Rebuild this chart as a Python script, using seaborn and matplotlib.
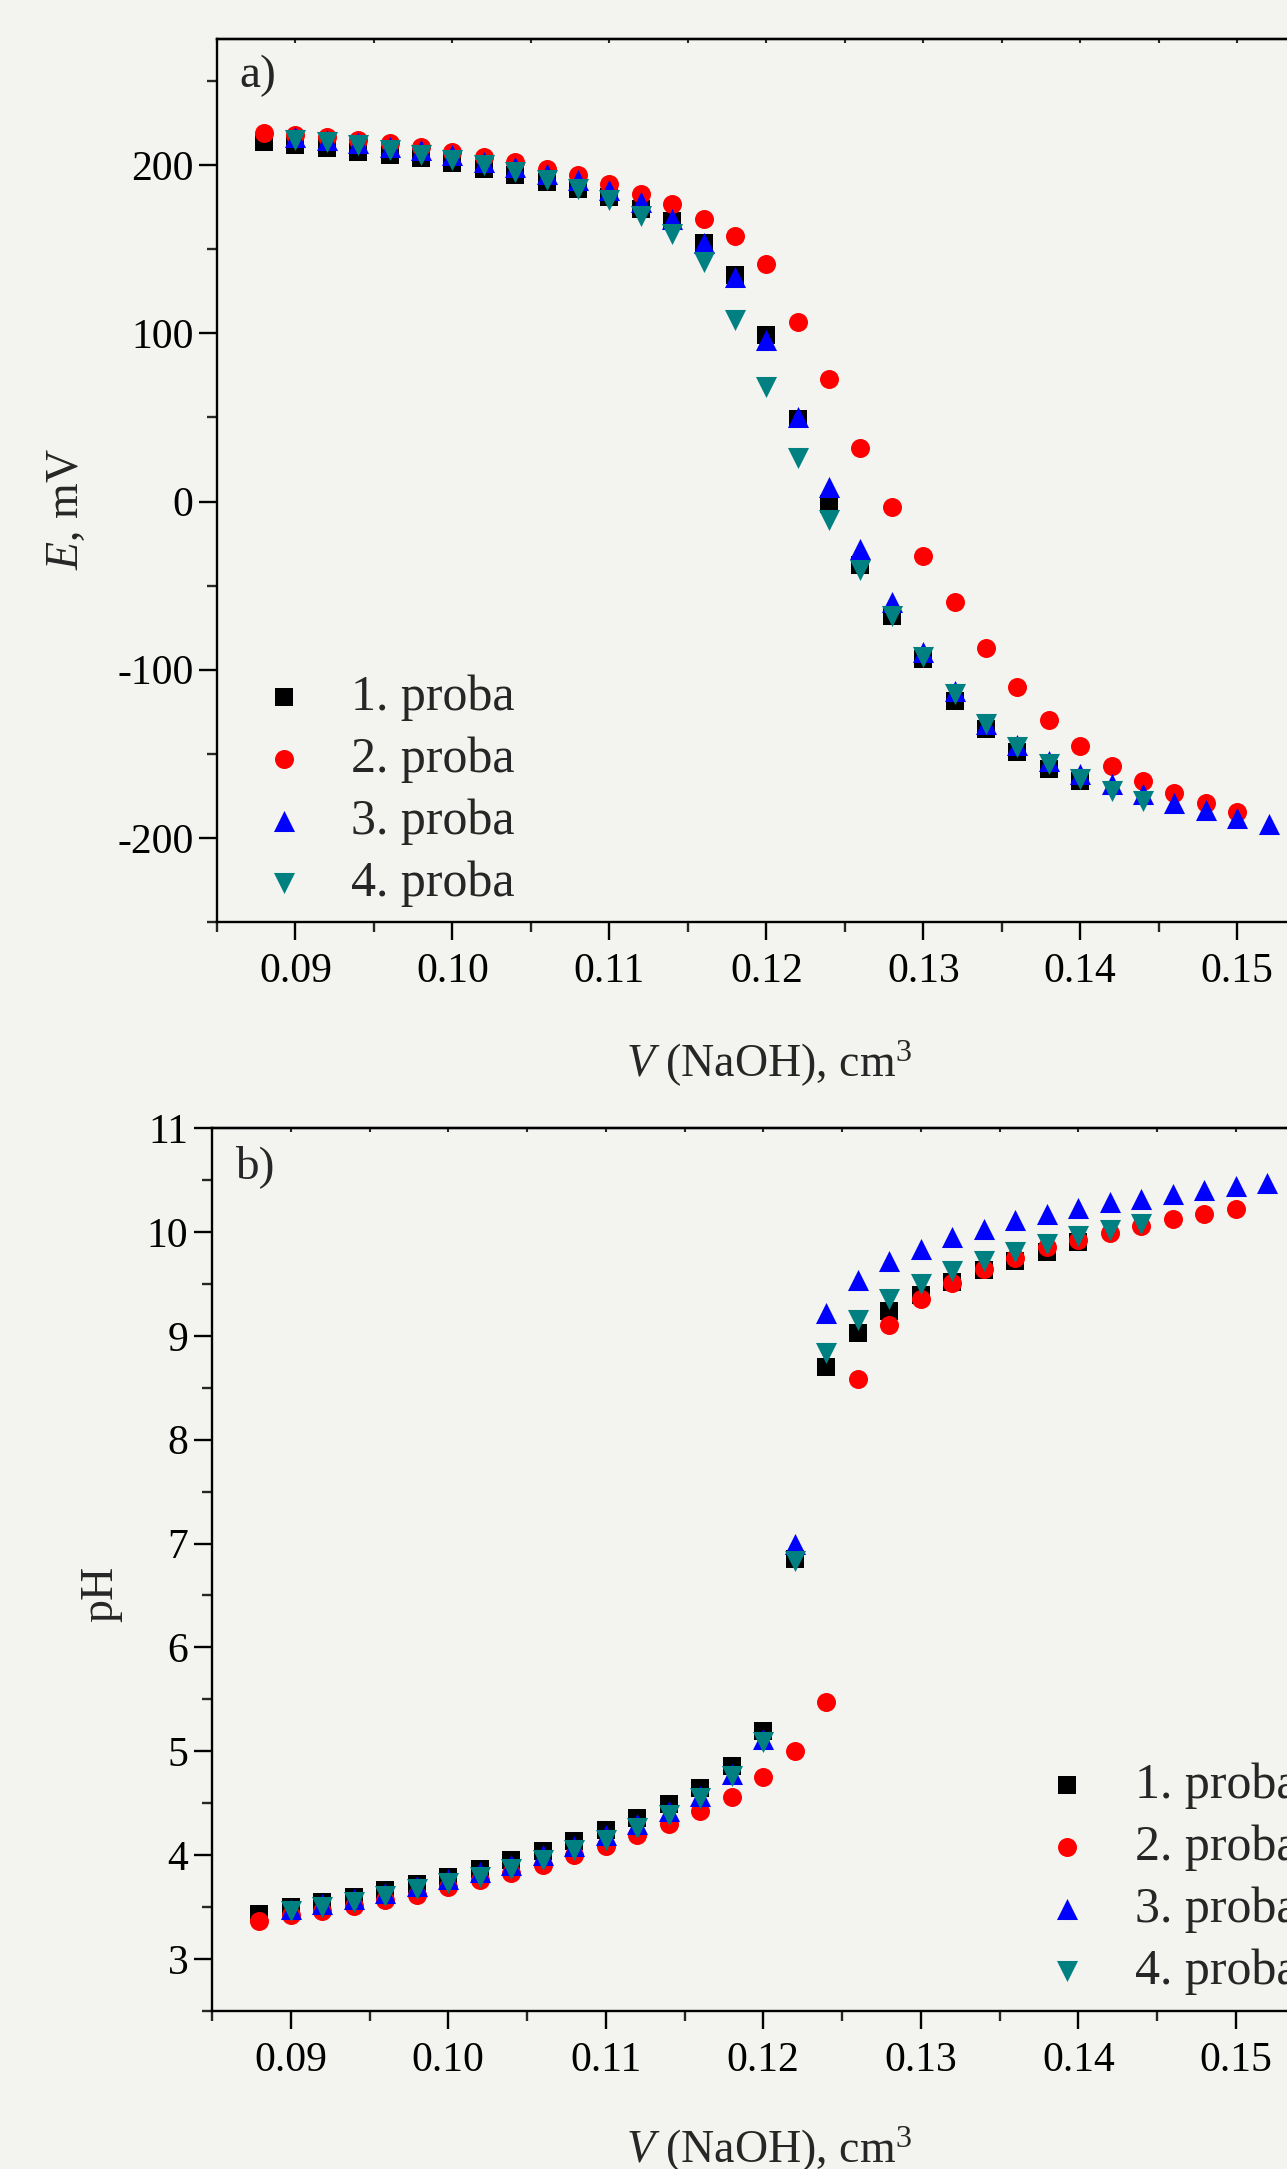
import matplotlib
matplotlib.use('Agg')
import matplotlib.pyplot as plt
from matplotlib.ticker import MultipleLocator, FormatStrFormatter
import seaborn as sns

# volumes of NaOH (cm3) for each run
V1 = [0.088, 0.090, 0.092, 0.094, 0.096, 0.098, 0.100, 0.102, 0.104, 0.106,
      0.108, 0.110, 0.112, 0.114, 0.116, 0.118, 0.120, 0.122, 0.124, 0.126,
      0.128, 0.130, 0.132, 0.134, 0.136, 0.138, 0.140]
V2 = [0.088, 0.090, 0.092, 0.094, 0.096, 0.098, 0.100, 0.102, 0.104, 0.106,
      0.108, 0.110, 0.112, 0.114, 0.116, 0.118, 0.120, 0.122, 0.124, 0.126,
      0.128, 0.130, 0.132, 0.134, 0.136, 0.138, 0.140, 0.142, 0.144, 0.146,
      0.148, 0.150]
V3 = [0.090, 0.092, 0.094, 0.096, 0.098, 0.100, 0.102, 0.104, 0.106, 0.108,
      0.110, 0.112, 0.114, 0.116, 0.118, 0.120, 0.122, 0.124, 0.126, 0.128,
      0.130, 0.132, 0.134, 0.136, 0.138, 0.140, 0.142, 0.144, 0.146, 0.148,
      0.150, 0.152]
V4 = [0.090, 0.092, 0.094, 0.096, 0.098, 0.100, 0.102, 0.104, 0.106, 0.108,
      0.110, 0.112, 0.114, 0.116, 0.118, 0.120, 0.122, 0.124, 0.126, 0.128,
      0.130, 0.132, 0.134, 0.136, 0.138, 0.140, 0.142, 0.144]

# a) potential, mV
E1 = [214, 212, 210, 208, 206, 204, 201, 198, 194, 190, 186, 181, 174, 167,
      154, 134.5, 99, 49, -1.5, -38, -68, -93.5, -118.5, -135, -149, -159, -166]
E2 = [219, 218, 217, 215, 213, 211, 208, 205, 202, 198, 194, 189, 183, 177,
      168, 158, 141.5, 107, 73, 32, -3, -32.5, -60, -87, -110.5, -130, -145.5,
      -157, -166, -173.5, -179, -184.5]
E3 = [216.5, 215, 213, 211, 209, 206, 202, 199, 195, 191, 185, 178, 168,
      153.5, 133.5, 96, 50, 8.5, -28, -60, -89.5, -112.5, -132, -145, -154,
      -162, -168, -174, -179, -183.5, -188, -192]
E4 = [215, 214, 212, 209, 206, 203, 200, 196, 191, 186, 179, 170, 159, 142.5,
      108, 68, 26, -11, -41, -68, -92.5, -114.5, -132, -146, -156, -165, -172,
      -178]

# b) pH
pH1 = [3.43, 3.50, 3.545, 3.60, 3.66, 3.72, 3.79, 3.87, 3.95, 4.04, 4.14,
       4.24, 4.36, 4.49, 4.65, 4.86, 5.20, 6.85, 8.70, 9.03, 9.24, 9.39, 9.52,
       9.63, 9.72, 9.81, 9.90]
pH2 = [3.37, 3.42, 3.46, 3.51, 3.57, 3.62, 3.69, 3.76, 3.83, 3.91, 4.00,
       4.09, 4.19, 4.30, 4.43, 4.56, 4.75, 5.00, 5.47, 8.58, 9.10, 9.35, 9.51,
       9.64, 9.75, 9.85, 9.92, 9.99, 10.06, 10.12, 10.17, 10.22]
pH3 = [3.48, 3.53, 3.58, 3.64, 3.70, 3.77, 3.84, 3.91, 4.00, 4.09, 4.19,
       4.30, 4.43, 4.57, 4.78, 5.12, 7.00, 9.22, 9.54, 9.72, 9.84, 9.95, 10.03,
       10.11, 10.17, 10.23, 10.29, 10.32, 10.36, 10.40, 10.44, 10.47]
pH4 = [3.46, 3.50, 3.55, 3.61, 3.67, 3.73, 3.79, 3.87, 3.95, 4.05, 4.15,
       4.26, 4.39, 4.55, 4.76, 5.09, 6.83, 8.83, 9.15, 9.35, 9.50, 9.62, 9.72,
       9.81, 9.88, 9.96, 10.02, 10.08]

labels = ['1. proba', '2. proba', '3. proba', '4. proba']
colors = ['#000000', '#ff0000', '#0000ff', '#008080']
markers = ['s', 'o', '^', 'v']
sizes = [150, 187, 230, 230]

BG = '#f3f3f0'
W, H = 1287, 2169

sns.set_theme(style='ticks')
plt.rcParams['font.family'] = ['Liberation Serif', 'DejaVu Serif']
plt.rcParams['mathtext.fontset'] = 'custom'
plt.rcParams['mathtext.rm'] = 'Liberation Serif'
plt.rcParams['mathtext.it'] = 'Liberation Serif:italic'
plt.rcParams['axes.unicode_minus'] = False

fig = plt.figure(figsize=(W / 100, H / 100), dpi=100, facecolor=BG)
ax1 = fig.add_axes([217 / W, 1 - 922 / H, 1130 / W, 883 / H])
ax2 = fig.add_axes([212 / W, 1 - 2011 / H, 1134 / W, 883 / H])

for ax, ys in [(ax1, [E1, E2, E3, E4]), (ax2, [pH1, pH2, pH3, pH4])]:
    for xs, y, lab, c, m, s in zip([V1, V2, V3, V4], ys, labels, colors, markers, sizes):
        sns.scatterplot(x=xs, y=y, ax=ax, color=c, marker=m, s=s,
                        linewidth=0, label=lab, zorder=3)
    ax.set_facecolor(BG)
    ax.set_xlim(0.085, 0.157)
    ax.xaxis.set_major_locator(MultipleLocator(0.01))
    ax.xaxis.set_minor_locator(MultipleLocator(0.005))
    ax.xaxis.set_major_formatter(FormatStrFormatter('%.2f'))
    for sp in ax.spines.values():
        sp.set_linewidth(1.7)
        sp.set_color('black')
    ax.tick_params(which='major', direction='out', length=13, width=1.7,
                   labelsize=30, pad=4, colors='black')
    ax.tick_params(axis='x', which='major', pad=9)
    ax.tick_params(which='minor', direction='out', length=7, width=1.7)
    top = ax.secondary_xaxis('top')
    top.xaxis.set_major_locator(MultipleLocator(0.01))
    top.xaxis.set_minor_locator(MultipleLocator(0.005))
    top.tick_params(which='both', direction='in', length=3, width=1.5,
                    labeltop=False)
    top.spines['top'].set_linewidth(1.7)
    ax.set_xlabel(r'$V$ (NaOH), cm$^3$', fontsize=33)

legend_kw = dict(loc='lower left', frameon=False, fontsize=36,
                 handlelength=1.0, handletextpad=0.85, labelspacing=0.31,
                 borderpad=0, borderaxespad=0, scatterpoints=1)

ax1.set_ylim(-250, 275)
ax1.yaxis.set_major_locator(MultipleLocator(100))
ax1.yaxis.set_minor_locator(MultipleLocator(50))
ax1.set_ylabel(r'$E$, mV', fontsize=33)
ax1.yaxis.set_label_coords(-0.114, 0.468)
ax1.xaxis.set_label_coords(0.4885, -0.132)
ax1.text(0.02, 0.958, 'a)', transform=ax1.transAxes, fontsize=34, va='center')
ax1.legend(bbox_to_anchor=(0.037, 0.017), **legend_kw)

ax2.set_ylim(2.5, 11)
ax2.yaxis.set_major_locator(MultipleLocator(1))
ax2.yaxis.set_minor_locator(MultipleLocator(0.5))
ax2.set_ylabel('pH', fontsize=33)
ax2.yaxis.set_label_coords(-0.079, 0.472)
ax2.xaxis.set_label_coords(0.491, -0.129)
ax2.text(0.02, 0.956, 'b)', transform=ax2.transAxes, fontsize=34, va='center')
ax2.legend(bbox_to_anchor=(0.732, 0.018), **legend_kw)

fig.savefig('out.png', dpi=100, facecolor=BG)
